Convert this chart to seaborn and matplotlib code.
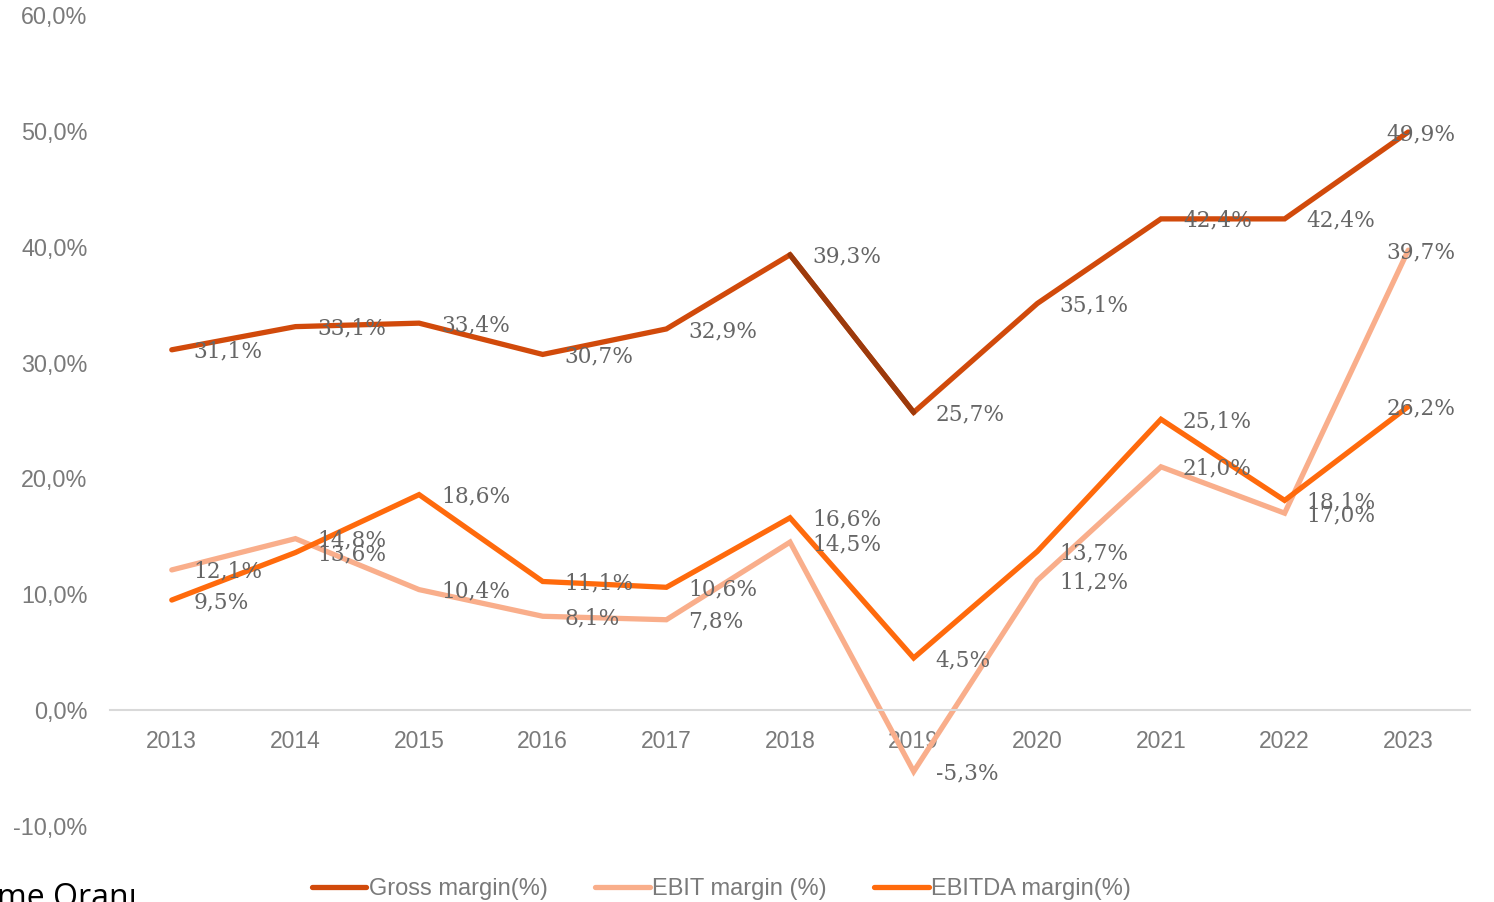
import matplotlib
matplotlib.use("Agg")
import matplotlib.pyplot as plt
import seaborn as sns
import pandas as pd
from matplotlib.ticker import FuncFormatter

years = [2013, 2014, 2015, 2016, 2017, 2018, 2019, 2020, 2021, 2022, 2023]
gross_margin = [31.1, 33.1, 33.4, 30.7, 32.9, 39.3, 25.7, 35.1, 42.4, 42.4, 49.9]
ebit_margin = [12.1, 14.8, 10.4, 8.1, 7.8, 14.5, -5.3, 11.2, 21.0, 17.0, 39.7]
ebitda_margin = [9.5, 13.6, 18.6, 11.1, 10.6, 16.6, 4.5, 13.7, 25.1, 18.1, 26.2]
series_names = ["Gross margin(%)", "EBIT margin (%)", "EBITDA margin(%)"]
y_ticks = [-10, 0, 10, 20, 30, 40, 50, 60]

colors = {"Gross margin(%)": "#D14A0B", "EBIT margin (%)": "#F9AE8B", "EBITDA margin(%)": "#FF6A0C"}
dark_segment = "#9C3A0C"

df = pd.DataFrame({
    "year": years * 3,
    "value": gross_margin + ebit_margin + ebitda_margin,
    "series": [series_names[0]] * len(years) + [series_names[1]] * len(years) + [series_names[2]] * len(years),
})

sns.set_theme(style="white")
plt.rcParams["font.family"] = ["Liberation Sans", "DejaVu Sans"]

fig = plt.figure(figsize=(14.94, 9.02), dpi=100)
ax = fig.add_axes([0.0736, 0.0843, 0.9104, 0.8991])

sns.lineplot(data=df, x="year", y="value", hue="series", hue_order=series_names,
             palette=colors, linewidth=3.8, ax=ax, legend=True,
             solid_capstyle="round", solid_joinstyle="miter")

# darker highlighted segment 2018-2019 on gross margin
seg = pd.DataFrame({"year": years[5:7], "value": gross_margin[5:7]})
sns.lineplot(data=seg, x="year", y="value", color=dark_segment, linewidth=3.8, ax=ax,
             legend=False, solid_capstyle="round")

# data labels
for vals in [gross_margin, ebit_margin, ebitda_margin]:
    for i, (x, v) in enumerate(zip(years, vals)):
        dx = -22 if i == len(years) - 1 else 22
        ax.annotate(f"{v:.1f}%".replace(".", ","), (x, v), xytext=(dx, -2),
                    textcoords="offset pixels", ha="left", va="center",
                    fontsize=15.6, color="#666666", family="DejaVu Serif", zorder=10)

ax.set_xlim(2012.5, 2023.5)
ax.set_ylim(-10, 60)
ax.set_yticks(y_ticks)
ax.yaxis.set_major_formatter(FuncFormatter(lambda v, p: f"{v:.1f}%".replace(".", ",")))
ax.set_xticks(years)
ax.set_xlabel("")
ax.set_ylabel("")
for s in ["top", "right", "left"]:
    ax.spines[s].set_visible(False)
ax.spines["bottom"].set_position(("data", 0))
ax.spines["bottom"].set_color("#D9D9D9")
ax.spines["bottom"].set_linewidth(1.5)
ax.tick_params(axis="x", length=0, pad=14, labelsize=16.5, labelcolor="#7A7A7A")
ax.tick_params(axis="y", length=0, pad=16, labelsize=16.8, labelcolor="#7A7A7A")
ax.grid(False)

handles, labels = ax.get_legend_handles_labels()
ax.legend_.remove()
leg = fig.legend(handles, labels, loc="center", bbox_to_anchor=(0.483, 0.0145), ncol=3,
                 frameon=False, fontsize=17, handlelength=2.3, handletextpad=0.12,
                 columnspacing=2.0)
for t in leg.get_texts():
    t.set_color("#7A7A7A")
for h in leg.get_lines():
    h.set_linewidth(3.8)

fig.text(-0.002, -0.006, "me Oranı", fontsize=23, color="black", va="baseline",
         ha="left", family="Open Sans")

fig.savefig("out.png", dpi=100)
